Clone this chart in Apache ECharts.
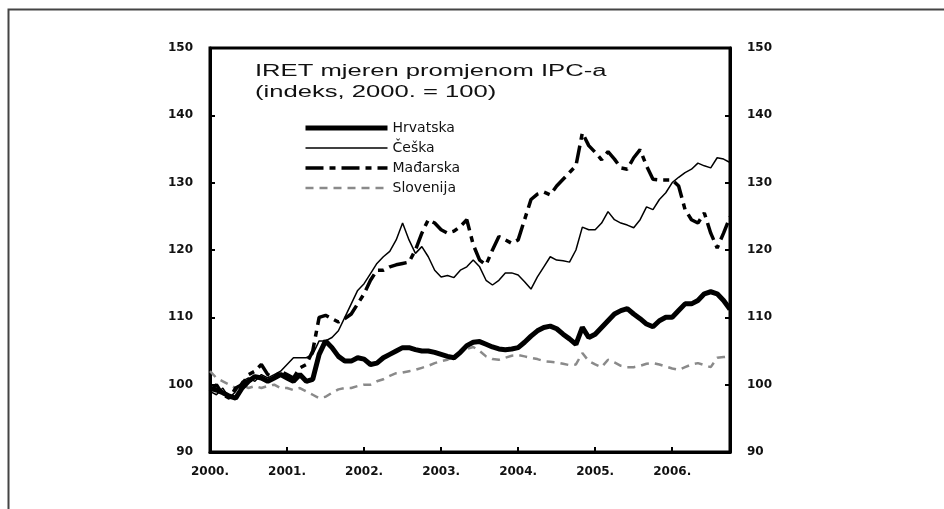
<!DOCTYPE html>
<html>
<head>
<meta charset="utf-8">
<script src="https://cdn.jsdelivr.net/npm/echarts@6/dist/echarts.min.js"></script>
<style>
  html, body { margin: 0; padding: 0; background: #ffffff; }
  #chart { width: 944px; height: 509px; }
</style>
</head>
<body>
<div id="chart"></div>
<script>
// Monthly observations, Jan 2000 (index 0) .. Oct 2006 (index 81)
var yearLabels = ['2000.', '2001.', '2002.', '2003.', '2004.', '2005.', '2006.'];
var yTicks = [90, 100, 110, 120, 130, 140, 150];
var seriesNames = ['Hrvatska', 'Češka', 'Mađarska', 'Slovenija'];

var hrvatska = [
  99.5, 99.2, 98.8, 98.3, 98.0, 99.5, 100.5, 101.2, 101.0, 100.5, 101.0, 101.5,
  101.0, 100.5, 101.5, 100.5, 100.8, 104.5, 106.5, 105.5, 104.2, 103.5, 103.5, 104.0,
  103.8, 103.0, 103.2, 104.0, 104.5, 105.0, 105.5, 105.5, 105.2, 105.0, 105.0, 104.8,
  104.5, 104.2, 104.0, 104.8, 105.8, 106.3, 106.4, 106.0, 105.6, 105.3, 105.2, 105.3,
  105.5, 106.3, 107.2, 108.0, 108.5, 108.7, 108.3, 107.5, 106.8, 106.0, 108.5, 107.0,
  107.5, 108.5, 109.5, 110.5, 111.0, 111.3, 110.5, 109.8, 109.0, 108.6, 109.5, 110.0,
  110.0, 111.0, 112.0, 112.0, 112.5, 113.5, 113.8, 113.5, 112.5, 111.2
];
var ceska = [
  99.0, 98.5, 99.5, 98.0, 99.0, 100.5, 101.0, 100.5, 101.5, 101.0, 101.5, 102.0,
  103.0, 104.0, 104.0, 104.0, 104.5, 106.5, 106.5, 107.0, 108.0, 110.0, 112.0, 114.0,
  115.0, 116.5, 118.0, 119.0, 119.8, 121.5, 124.0, 121.5, 119.5, 120.5, 119.0, 117.0,
  116.0, 116.2, 115.9, 117.0, 117.5, 118.5, 117.5, 115.5, 114.8, 115.5, 116.6, 116.6,
  116.3, 115.3, 114.2, 116.0, 117.5, 119.0, 118.5, 118.4, 118.2, 120.0, 123.4, 123.0,
  123.0, 124.0, 125.7, 124.5, 124.0, 123.7, 123.3, 124.5, 126.4, 126.0, 127.5, 128.5,
  130.0, 130.8, 131.5, 132.0, 132.9, 132.5, 132.2, 133.7, 133.5, 133.0
];
var madarska = [
  99.0, 100.0, 98.5, 98.0, 99.5, 100.0, 101.5, 102.0, 103.0, 101.5, 101.0, 102.0,
  101.5, 101.0, 102.5, 103.0, 105.0, 110.0, 110.3, 109.8, 109.3, 109.8, 110.5, 112.0,
  113.5, 115.5, 117.0, 117.0, 117.5, 117.8, 118.0, 118.2, 120.0, 122.5, 124.5, 124.0,
  123.0, 122.5, 122.8, 123.5, 124.5, 120.8, 118.5, 117.8, 120.0, 122.0, 121.5, 121.0,
  121.5, 124.5, 127.5, 128.3, 128.6, 128.2, 129.5, 130.5, 131.5, 132.5, 137.4, 135.5,
  134.5, 133.4, 134.6, 133.5, 132.2, 132.0, 133.7, 134.9, 132.5, 130.5, 130.4, 130.4,
  130.4, 129.5, 126.0, 124.5, 124.0, 125.5, 122.5, 120.3, 122.5, 124.9
];
var slovenija = [
  102.0, 101.0, 100.5, 100.0, 99.5, 100.0, 99.5, 99.8, 99.5, 99.8, 100.0, 99.5,
  99.5, 99.2, 99.5, 99.0, 98.5, 98.0, 98.2, 98.8, 99.3, 99.5, 99.5, 99.8,
  100.0, 100.0, 100.5, 100.8, 101.3, 101.7, 101.8, 102.0, 102.2, 102.5, 102.8, 103.2,
  103.5, 103.7, 104.2, 104.8, 105.3, 105.6, 105.0, 104.2, 103.8, 103.7, 104.0, 104.3,
  104.4, 104.2, 104.0, 103.8, 103.5, 103.4, 103.3, 103.1, 102.9, 103.0, 104.7, 103.5,
  103.0, 102.6, 103.7, 103.3, 102.8, 102.6, 102.6, 102.8, 103.1, 103.2, 103.0, 102.7,
  102.4, 102.2, 102.6, 103.0, 103.2, 102.9, 102.6, 104.0, 104.1, 104.2
];

function pairs(arr) { return arr.map(function (v, i) { return [i, v]; }); }

var lineStyles = {
  'Hrvatska': { color: '#000', width: 5, type: 'solid' },
  'Češka': { color: '#000', width: 1.5, type: 'solid' },
  'Mađarska': { color: '#000', width: 3.5, type: [18, 6, 6, 6] },
  'Slovenija': { color: '#8a8a8a', width: 2.5, type: [8, 6] }
};

var chart = echarts.init(document.getElementById('chart'), null, { renderer: 'canvas' });

var axisFont = { fontFamily: 'DejaVu Sans', fontWeight: 'bold', fontSize: 12, color: '#111' };

var option = {
  animation: false,
  backgroundColor: '#ffffff',
  graphic: [
    {
      type: 'rect', left: 6, top: 7, z: -1,
      shape: { width: 1100, height: 1100 },
      style: { fill: 'none', stroke: '#444', lineWidth: 2 }
    },
    {
      type: 'text', x: 255, y: 61, scaleX: 1.6, scaleY: 1,
      style: {
        text: 'IRET mjeren promjenom IPC-a\n(indeks, 2000. = 100)',
        font: '16px "Liberation Sans", Arial, sans-serif',
        lineHeight: 21, fill: '#111'
      }
    }
  ],
  legend: {
    orient: 'vertical', left: 303, top: 121, padding: 0,
    itemWidth: 82, itemHeight: 14, itemGap: 6,
    data: seriesNames.map(function (n) {
      return { name: n, lineStyle: lineStyles[n] };
    }),
    itemStyle: { opacity: 0 },
    textStyle: { fontFamily: 'DejaVu Sans', fontSize: 14, color: '#111' }
  },
  grid: {
    left: 210, right: 214, top: 48, bottom: 57,
    show: true, borderColor: '#000', borderWidth: 3, backgroundColor: 'transparent'
  },
  xAxis: {
    type: 'value', min: 0, max: 81, interval: 12,
    splitLine: { show: false },
    axisLine: { lineStyle: { color: '#000', width: 3 } },
    axisTick: { inside: true, length: 5, lineStyle: { color: '#000', width: 2 } },
    axisLabel: Object.assign({
      margin: 14, showMaxLabel: false,
      formatter: function (v) { return v % 12 === 0 ? (yearLabels[v / 12] || '') : ''; }
    }, axisFont)
  },
  yAxis: [
    {
      type: 'value', position: 'left', min: yTicks[0], max: yTicks[yTicks.length - 1], interval: 10,
      splitLine: { show: false },
      axisLine: { show: true, lineStyle: { color: '#000', width: 3 } },
      axisTick: { show: true, inside: true, length: 5, lineStyle: { color: '#000', width: 2 } },
      axisLabel: Object.assign({ margin: 17 }, axisFont)
    },
    {
      type: 'value', position: 'right', min: yTicks[0], max: yTicks[yTicks.length - 1], interval: 10,
      splitLine: { show: false },
      axisLine: { show: true, lineStyle: { color: '#000', width: 3 } },
      axisTick: { show: true, inside: true, length: 5, lineStyle: { color: '#000', width: 2 } },
      axisLabel: Object.assign({ margin: 17 }, axisFont)
    }
  ],
  series: [
    {
      name: 'Slovenija', type: 'line', data: pairs(slovenija), showSymbol: false, symbol: 'none', z: 2,
      itemStyle: { color: '#8a8a8a' }, lineStyle: lineStyles['Slovenija']
    },
    {
      name: 'Češka', type: 'line', data: pairs(ceska), showSymbol: false, symbol: 'none', z: 3,
      itemStyle: { color: '#000' }, lineStyle: lineStyles['Češka']
    },
    {
      name: 'Mađarska', type: 'line', data: pairs(madarska), showSymbol: false, symbol: 'none', z: 4,
      itemStyle: { color: '#000' }, lineStyle: lineStyles['Mađarska']
    },
    {
      name: 'Hrvatska', type: 'line', data: pairs(hrvatska), showSymbol: false, symbol: 'none', z: 5,
      itemStyle: { color: '#000' }, lineStyle: lineStyles['Hrvatska']
    }
  ]
};
chart.setOption(option);
</script>
</body>
</html>
